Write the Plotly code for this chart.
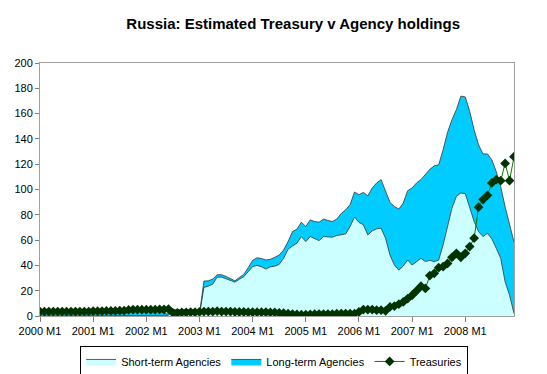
import plotly.graph_objects as go

years = list(range(2000, 2009))
months = [f"{y} M{m}" for y in years for m in range(1, 13)]
tick_labels = [f"{y} M1" for y in years]

short_term = [
    0, 0, 0, 0, 0, 0, 0, 0, 0, 0, 0, 0,
    0, 0, 0, 0, 0, 0, 0, 0, 0.5, 0.5, 0.5, 0.5,
    0.5, 0.5, 0.5, 0.5, 0, 0.5, 4, 4, 4, 4, 4, 4,
    1, 22.6, 23.6, 25.2, 30.7, 30.7, 29.4, 27.8, 26.8, 29.0, 31.0, 35.0,
    39.0, 40.0, 38.9, 37.1, 38.9, 39.4, 40.8, 45.6, 52.7, 55.4, 57.5, 62.8,
    58.8, 62.8, 61.0, 59.6, 62.8, 62.8, 62.3, 63.6, 64.0, 64.9, 70.7, 78.2,
    74.0, 72.1, 64.1, 67.3, 68.9, 69.4, 61.5, 48.2, 40.3, 36.3, 39.5, 44.3,
    40.3, 42.9, 45.6, 43.0, 44.0, 42.9, 44.3, 56.2, 72.1, 85.3, 94.6, 97.2,
    96.8, 86.6, 74.7, 66.7, 62.8, 65.4, 61.0, 53.5, 45.6, 27.0, 16.4, 2.0,
]

long_term = [
    2, 2, 2, 2, 2, 2, 2, 2, 2, 2, 2, 2,
    2.5, 2.5, 2.5, 2.5, 2.5, 2.5, 2.5, 2.5, 3.5, 3.5, 3.5, 3.5,
    3.5, 3.5, 3.5, 3.5, 2, 1, 1, 1, 1, 1, 1, 1,
    0.5, 5.0, 4.2, 4.0, 1.9, 1.9, 1.9, 1.7, 1.0, 1.5, 1.9, 3.2,
    5.0, 6.0, 6.6, 7.2, 5.9, 7.0, 7.4, 6.6, 6.1, 11.3, 11.1, 11.4,
    11.9, 13.2, 13.7, 14.6, 13.8, 12.7, 12.4, 13.0, 17.0, 19.1, 17.3, 19.8,
    21.9, 25.6, 30.9, 33.9, 36.3, 38.4, 37.0, 41.6, 46.3, 48.2, 49.8, 54.8,
    60.9, 62.3, 62.2, 68.7, 72.0, 75.8, 75.2, 75.2, 73.1, 69.9, 68.6, 76.6,
    76.4, 75.2, 72.5, 68.6, 65.3, 62.7, 62.4, 60.6, 56.6, 59.3, 56.7, 56.5,
]

treasuries = [
    3.5, 3.5, 3.5, 3.5, 3.5, 3.5, 3.5, 3.5, 3.5, 3.5, 3.5, 3.5,
    3.8, 3.8, 3.8, 4.0, 4.0, 4.0, 4.2, 4.2, 4.8, 5.0, 5.0, 5.0,
    5.0, 5.0, 5.0, 5.2, 5.2, 5.5, 2.5, 2.5, 2.8, 2.8, 3.0, 3.0,
    3.2, 3.5, 3.5, 3.5, 3.8, 3.5, 3.5, 3.5, 3.2, 3.2, 3.2, 3.0,
    3.0, 3.0, 3.0, 3.0, 2.8, 2.8, 2.5, 2.2, 1.8, 1.5, 1.2, 1.0,
    1.0, 1.2, 1.5, 1.5, 1.5, 1.5, 1.5, 1.8, 1.9, 1.9, 1.9, 1.9,
    3.2, 5.1, 5.1, 5.1, 4.6, 4.6, 4.1, 7.2, 7.9, 9.3, 11.1, 13.8,
    16.4, 19.9, 23.6, 21.8, 32.0, 33.7, 38.2, 39.0, 41.6, 46.4, 49.6, 46.4,
    49.6, 54.9, 61.5, 86.0, 92.0, 95.4, 105.2, 107.8, 107.0, 120.6, 107.0, 125.9,
]

FONT = "Liberation Sans, Arial, sans-serif"

fig = go.Figure()
fig.add_trace(go.Scatter(
    x=months, y=short_term, name="Short-term Agencies", mode="lines",
    stackgroup="one", fillcolor="#CCFFFF",
    line=dict(color="#333333", width=0.8),
))
fig.add_trace(go.Scatter(
    x=months, y=long_term, name="Long-term Agencies", mode="lines",
    stackgroup="one", fillcolor="#00CCFF",
    line=dict(color="#333333", width=0.8),
))
fig.add_trace(go.Scatter(
    x=months, y=treasuries, name="Treasuries", mode="lines+markers",
    line=dict(color="#008000", width=1),
    marker=dict(symbol="diamond", size=7.5, color="#003300",
                line=dict(color="#003300", width=0)),
))

fig.update_layout(
    width=547, height=374,
    margin=dict(l=40, r=33, t=63, b=58, autoexpand=False),
    paper_bgcolor="white", plot_bgcolor="white",
    font=dict(family=FONT, size=11, color="black"),
    title=dict(
        text="<b>Russia: Estimated Treasury v Agency holdings</b>",
        font=dict(family=FONT, size=15, color="black"),
        xref="container", x=0.536, xanchor="center",
        yref="container", y=0.936, yanchor="middle",
    ),
    showlegend=True,
    legend=dict(
        orientation="h", xref="paper", x=0.494, xanchor="center",
        yref="container", y=0.075, yanchor="top",
        bordercolor="black", borderwidth=1,
        font=dict(family=FONT, size=11, color="black"),
        tracegroupgap=0, itemwidth=30,
        traceorder="normal",
    ),
    hovermode=False,
)

fig.update_xaxes(
    type="category", range=[0, len(months) - 1], automargin=False,
    tickmode="array", tickvals=tick_labels, ticktext=tick_labels,
    ticks="outside", ticklen=5, tickcolor="#808080",
    showline=True, linecolor="#A0A0A0", linewidth=1, mirror=True,
    showgrid=False, zeroline=False,
    tickfont=dict(family=FONT, size=11, color="black"),
)
fig.update_yaxes(
    range=[0, 200], dtick=20, tick0=0, automargin=False,
    ticks="outside", ticklen=4, tickcolor="#808080",
    showline=True, linecolor="#A0A0A0", linewidth=1, mirror=True,
    showgrid=False, zeroline=False,
    tickfont=dict(family=FONT, size=11, color="black"),
)

fig.write_html(
    "out.html",
    config={"displayModeBar": False, "staticPlot": True},
    post_script="document.body.style.margin='0px';document.body.style.overflow='hidden';",
)
